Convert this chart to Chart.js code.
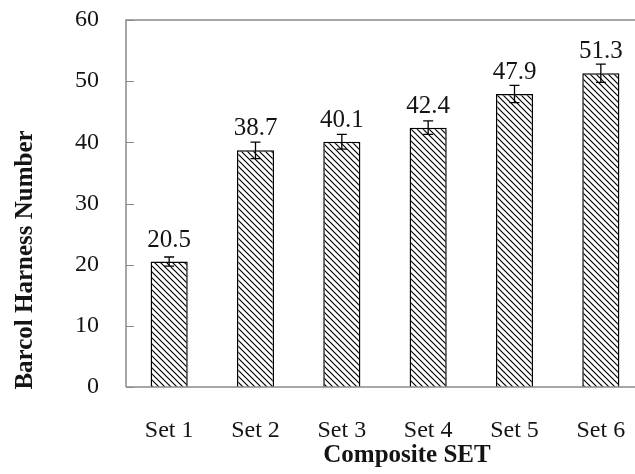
<!DOCTYPE html>
<html>
<head>
<meta charset="utf-8">
<script src="https://cdn.jsdelivr.net/npm/chart.js@4/dist/chart.umd.min.js"></script>
<style>
  html, body { margin: 0; padding: 0; background: #fff; overflow: hidden; }
  #wrap { position: relative; width: 660px; height: 474px; }
</style>
</head>
<body>
<div id="wrap"><canvas id="c"></canvas></div>
<script>
const categories = ["Set 1", "Set 2", "Set 3", "Set 4", "Set 5", "Set 6"];
const hardness = [20.5, 38.7, 40.1, 42.4, 47.9, 51.3];
const errors = [0.75, 1.35, 1.2, 1.1, 1.4, 1.5];
const yTicks = [0, 10, 20, 30, 40, 50, 60];
const yTitle = "Barcol Harness Number";
const xTitle = "Composite SET";

const TEXT = '#141414';
const AXIS = '#8a8a8a';
const SERIF = '"Liberation Serif", "Times New Roman", serif';

function hatch() {
  const c = document.createElement('canvas');
  c.width = 6; c.height = 6;
  const g = c.getContext('2d');
  g.fillStyle = '#fff'; g.fillRect(0, 0, 6, 6);
  g.strokeStyle = '#000'; g.lineWidth = 1.2;
  g.beginPath();
  g.moveTo(-1, -1); g.lineTo(7, 7);
  g.moveTo(-1, 5); g.lineTo(1, 7);
  g.moveTo(5, -1); g.lineTo(7, 1);
  g.stroke();
  return g.createPattern(c, 'repeat');
}

const framePlugin = {
  id: 'frame',
  afterDatasetsDraw(chart) {
    const { ctx, chartArea: a, scales } = chart;
    ctx.save();
    ctx.strokeStyle = AXIS;
    ctx.lineWidth = 1.5;
    ctx.beginPath();
    ctx.moveTo(a.left, a.bottom); ctx.lineTo(a.left, a.top); ctx.lineTo(a.right + 20, a.top);
    ctx.moveTo(a.left, a.bottom); ctx.lineTo(a.right + 20, a.bottom);
    ctx.stroke();
    // inner tick marks on y axis
    ctx.lineWidth = 1;
    ctx.beginPath();
    yTicks.forEach(v => {
      const y = Math.round(scales.y.getPixelForValue(v)) + 0.5;
      ctx.moveTo(a.left, y); ctx.lineTo(a.left + 8, y);
    });
    ctx.stroke();

    // error bars and value labels
    const meta = chart.getDatasetMeta(0);
    const ys = scales.y;
    ctx.strokeStyle = '#000';
    ctx.lineWidth = 1.3;
    meta.data.forEach((el, i) => {
      const v = hardness[i], e = errors[i];
      const yt = ys.getPixelForValue(v + e), yb = ys.getPixelForValue(v - e);
      ctx.beginPath();
      ctx.moveTo(el.x, yt); ctx.lineTo(el.x, yb);
      ctx.moveTo(el.x - 5, yt); ctx.lineTo(el.x + 5, yt);
      ctx.moveTo(el.x - 5, yb); ctx.lineTo(el.x + 5, yb);
      ctx.stroke();
    });
    ctx.fillStyle = TEXT;
    ctx.font = '25px ' + SERIF;
    ctx.textAlign = 'center';
    ctx.textBaseline = 'alphabetic';
    meta.data.forEach((el, i) => {
      ctx.fillText(hardness[i].toFixed(1), el.x, el.y - 15);
    });
    ctx.restore();
  },
  afterDraw(chart) {
    const { ctx } = chart;
    ctx.save();
    ctx.fillStyle = TEXT;
    ctx.font = 'bold 25px ' + SERIF;
    ctx.textAlign = 'center';
    ctx.textBaseline = 'middle';
    ctx.fillText(xTitle, 407, 456);
    ctx.translate(26, 260);
    ctx.rotate(-Math.PI / 2);
    ctx.fillText(yTitle, 0, 0);
    ctx.restore();
  }
};

new Chart(document.getElementById('c'), {
  type: 'bar',
  data: {
    labels: categories,
    datasets: [{
      data: hardness,
      backgroundColor: hatch(),
      borderColor: '#000',
      borderWidth: 1.5,
      borderSkipped: 'bottom',
      barPercentage: 0.43,
      categoryPercentage: 1.0
    }]
  },
  options: {
    responsive: true,
    maintainAspectRatio: false,
    animation: false,
    devicePixelRatio: 1,
    layout: { padding: { top: 20, right: 16, left: 0, bottom: 0 } },
    plugins: { legend: { display: false }, tooltip: { enabled: false } },
    scales: {
      x: {
        offset: true,
        grid: { display: false, drawTicks: false },
        border: { display: false },
        ticks: { color: TEXT, font: { family: SERIF, size: 24 }, padding: 29 },
        afterFit(s) { s.height = 87; s.paddingLeft = 0; s.paddingRight = 0; }
      },
      y: {
        min: 0, max: 60,
        grid: { display: false, drawTicks: false },
        border: { display: false },
        ticks: { stepSize: 10, color: TEXT, font: { family: SERIF, size: 24 }, padding: 27 },
        afterFit(s) { s.width = 126; s.paddingTop = 0; s.paddingBottom = 0; }
      }
    }
  },
  plugins: [framePlugin]
});
</script>
</body>
</html>
